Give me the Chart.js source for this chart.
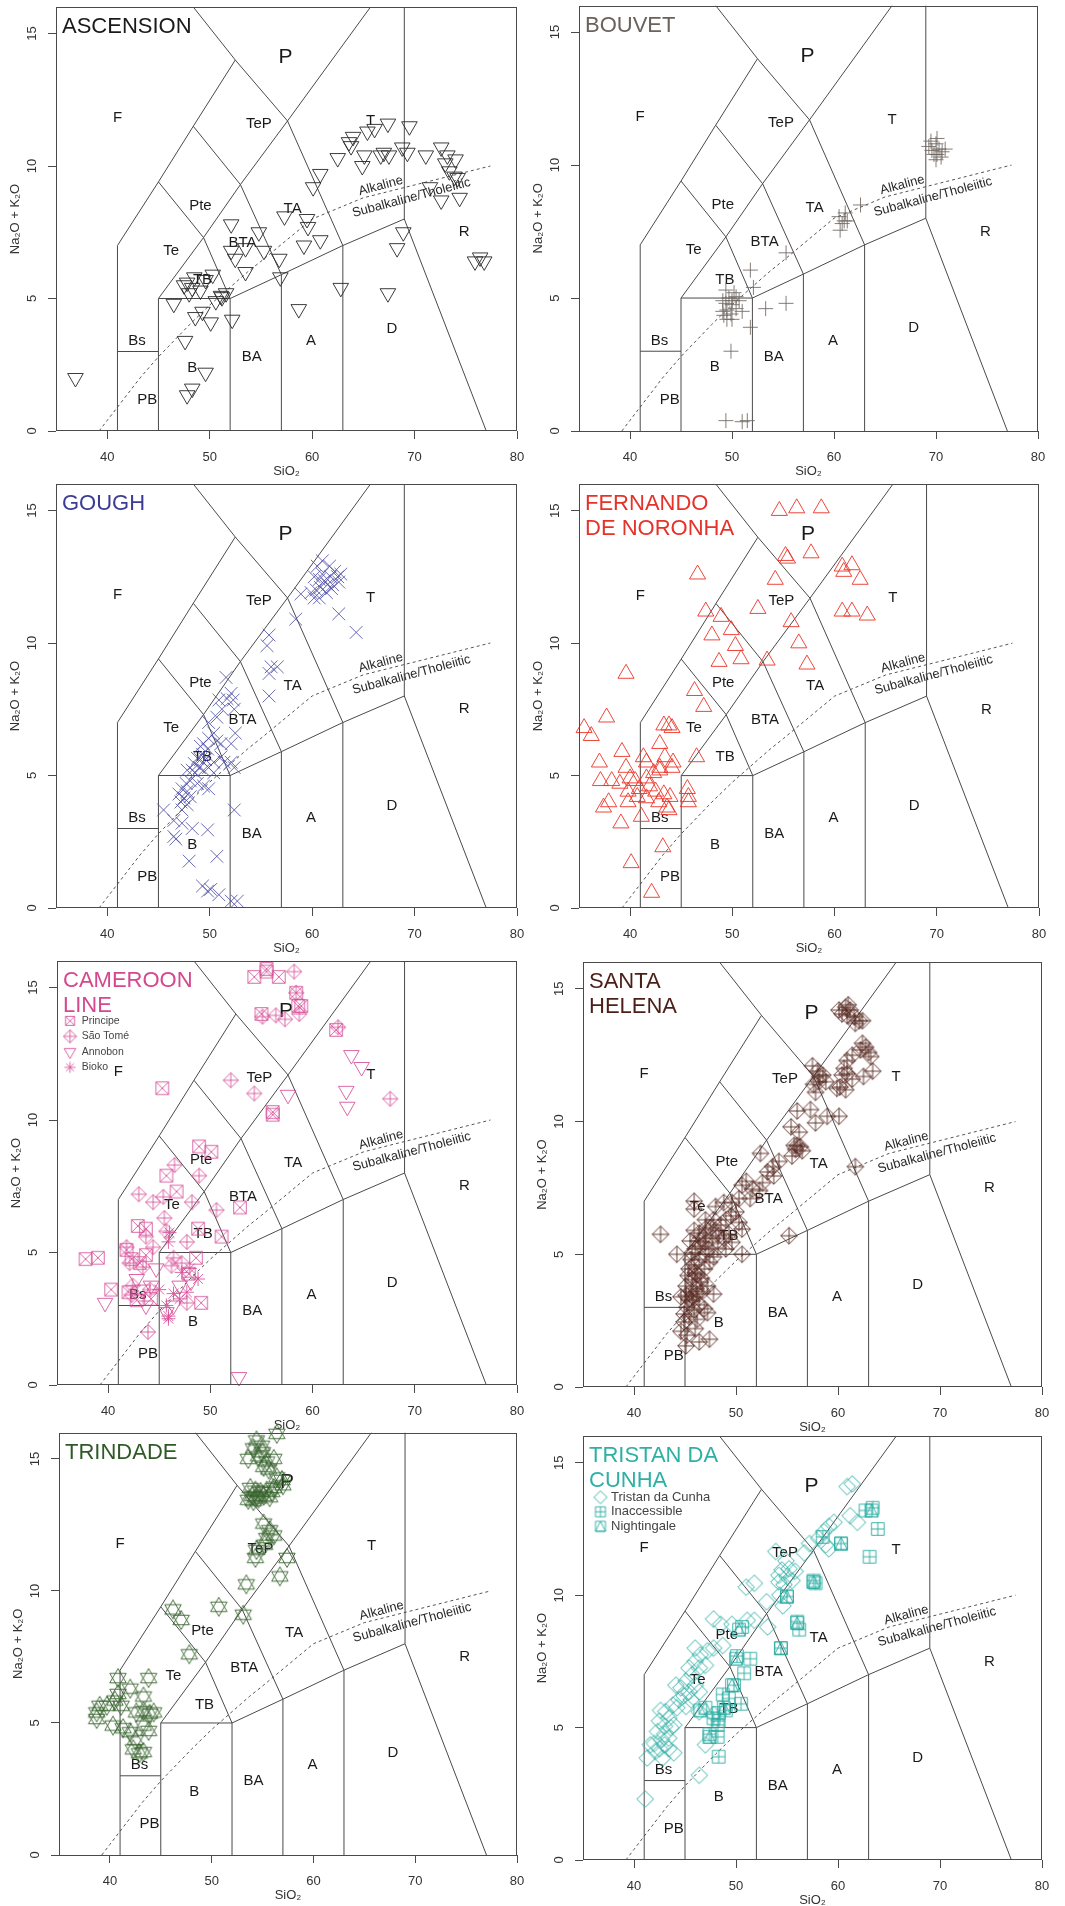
<!DOCTYPE html>
<html><head><meta charset="utf-8">
<script src="https://cdn.jsdelivr.net/npm/chart.js@4"></script>
<style>
html,body{margin:0;padding:0;background:#fff;}
#wrap{position:relative;width:1065px;height:1906px;overflow:hidden;background:#fff;}
#wrap canvas{position:absolute;}
</style></head><body><div id="wrap"></div>
<script>
// ---------- axis ticks ----------
const xTicks = [40, 50, 60, 70, 80];
const yTicks = [0, 5, 10, 15];

// ---------- TAS field boundaries [SiO2, Na2O+K2O] ----------
const fieldLines = [
  [[41,0],[41,7],[45,9.4],[48.4,11.5],[52.5,14],[48.4,16]],
  [[41,3],[45,3]],
  [[45,0],[45,5],[52,5],[57,5.9],[63,7],[69,8],[77,0]],
  [[52,0],[52,5]],
  [[57,0],[57,5.9]],
  [[63,0],[63,7]],
  [[69,8],[69,16]],
  [[45,5],[49.4,7.3],[53,9.3],[57.6,11.7],[65.7,16]],
  [[45,9.4],[49.4,7.3],[52,5]],
  [[48.4,11.5],[53,9.3],[57,5.9]],
  [[52.5,14],[57.6,11.7],[63,7]]
];
const alkLineX = [39.2,40,43.2,45,48,50,53.7,55,60,65,77.4];
const alkLineY = [0,0.4,2,2.8,4,4.75,6,6.4,8,8.8,10];

const fieldNames = ['P','F','TeP','T','Pte','TA','Te','BTA','TB','R','D','A','BA','Bs','B','PB'];
const fieldX = [57.4,41.0,54.8,65.7,49.1,58.1,46.25,53.2,49.3,74.85,67.8,59.9,54.1,42.9,48.3,43.9];
const fieldY = [14.1,11.8,11.6,11.7,8.5,8.4,6.8,7.1,5.7,7.5,3.86,3.4,2.8,3.4,2.4,1.17];
const seriesLabels = ['Alkaline','Subalkaline/Tholeiitic'];
const seriesLabelX = [66.7,69.7];
const seriesLabelY = [9.25,8.8];

// ---------- data: [SiO2, Na2O+K2O] ----------
const ascension = [[36.9,2.0],[47.8,1.35],[48.3,1.6],[49.6,2.2],[47.6,3.4],[46.5,4.8],[48.6,4.3],[49.3,4.5],[50.1,4.1],[52.2,4.2],[48.0,5.2],[48.3,5.4],[47.8,5.6],[48.5,5.8],[49.1,5.3],[49.6,5.7],[50.3,5.9],[50.6,4.9],[51.2,5.05],[51.6,5.2],[51.1,5.1],[47.5,5.5],[52.1,7.8],[52.1,6.8],[52.5,6.5],[53.5,6.9],[53.5,6.0],[54.8,7.5],[55.3,6.8],[56.8,6.5],[56.9,5.8],[57.3,8.1],[59.5,8.0],[59.6,7.7],[59.2,7.0],[60.8,7.2],[58.7,4.6],[60.1,9.2],[60.8,9.7],[62.5,10.3],[62.8,5.4],[63.6,10.9],[63.8,10.75],[64.0,11.1],[64.9,10.0],[65.1,10.4],[65.4,11.3],[66.1,11.4],[66.7,10.4],[67.0,10.5],[67.4,11.6],[67.5,10.4],[68.8,10.7],[69.3,10.5],[69.5,11.5],[67.4,5.2],[68.3,6.9],[68.9,7.5],[71.1,10.4],[72.6,10.7],[73.2,10.4],[73.0,10.1],[73.4,9.8],[74.0,10.25],[73.9,9.6],[71.5,9.2],[72.6,8.7],[74.4,8.8],[75.9,6.4],[76.4,6.55],[76.8,6.4],[74.2,9.55]];

const bouvet = [[69.3,10.7],[69.6,10.55],[70.0,10.8],[70.1,10.4],[70.3,10.6],[70.5,10.3],[70.6,10.5],[69.8,10.4],[69.5,10.9],[70.1,11.0],[70.9,10.6],[70.0,10.2],[60.5,8.06],[60.8,7.8],[61.0,7.9],[61.3,7.9],[60.6,7.55],[61.1,8.2],[62.6,8.5],[55.3,6.7],[51.8,6.05],[52.1,5.4],[53.3,4.6],[55.3,4.8],[51.8,3.9],[49.9,3.0],[49.1,4.9],[49.4,4.8],[49.7,5.0],[50.0,4.9],[50.4,5.05],[50.7,4.9],[49.5,4.55],[49.9,4.4],[49.2,4.35],[50.0,4.2],[50.4,4.6],[51.0,4.5],[49.5,4.2],[49.1,4.5],[50.2,5.2],[49.4,5.3],[50.0,4.75],[49.4,0.39],[51.0,0.35],[51.5,0.39]];

const gough = [[60.5,12.9],[61.0,13.1],[61.7,12.9],[62.2,12.7],[62.5,12.5],[60.2,12.5],[60.7,12.4],[61.2,12.35],[61.5,12.2],[62.0,12.2],[62.6,12.3],[60.8,12.1],[60.4,12.0],[59.9,11.9],[61.4,11.9],[61.9,12.05],[58.9,11.85],[60.7,11.7],[60.2,11.7],[61.0,12.6],[61.8,12.5],[62.8,12.6],[58.4,10.9],[62.6,11.1],[64.3,10.4],[55.8,10.3],[55.6,9.9],[56.0,9.1],[56.6,9.1],[55.8,8.85],[55.8,8.0],[51.6,8.7],[52.1,8.1],[52.3,7.85],[51.7,7.9],[50.9,7.85],[51.2,7.5],[50.7,7.2],[52.4,7.5],[52.5,6.6],[52.1,6.2],[49.9,7.0],[50.4,6.6],[50.7,6.3],[51.1,6.2],[49.9,6.4],[49.4,6.2],[49.1,6.1],[49.8,6.0],[49.3,5.8],[48.8,5.65],[49.1,5.6],[49.6,5.6],[48.5,5.45],[49.0,5.3],[48.3,5.2],[47.8,5.2],[48.6,5.1],[49.4,5.2],[49.9,5.3],[50.4,5.5],[51.1,5.7],[51.4,5.5],[52.1,5.5],[52.4,5.3],[50.4,5.1],[48.1,4.8],[47.7,4.7],[48.8,4.7],[49.4,4.6],[49.9,4.5],[47.3,4.5],[47.8,4.4],[47.0,4.3],[47.5,4.15],[48.1,4.2],[47.2,4.0],[47.8,3.9],[47.3,3.7],[45.5,3.7],[46.5,3.3],[47.3,3.2],[48.3,3.0],[49.8,2.95],[46.5,2.7],[46.7,2.6],[52.4,3.7],[48.0,1.77],[50.7,1.95],[49.3,0.83],[49.8,0.64],[50.1,0.7],[50.9,0.5],[52.1,0.26],[52.7,0.26]];

const fernando = [[54.6,15.0],[56.3,15.1],[58.7,15.1],[55.2,13.3],[55.4,13.2],[57.7,13.4],[46.6,12.6],[54.2,12.4],[60.75,12.9],[61.7,12.95],[60.9,12.7],[62.5,12.4],[60.75,11.2],[61.7,11.2],[63.2,11.05],[52.5,11.3],[47.4,11.2],[48.9,11.0],[55.75,10.8],[49.9,10.5],[48.0,10.3],[50.3,9.9],[56.5,10.0],[48.7,9.3],[50.85,9.4],[53.4,9.35],[57.3,9.2],[39.6,8.85],[46.3,8.2],[47.2,7.6],[37.7,7.2],[35.5,6.8],[36.2,6.5],[43.3,6.9],[43.8,6.9],[44.1,6.8],[39.2,5.9],[42.9,6.2],[46.5,5.7],[37.0,5.5],[39.6,5.3],[41.3,5.7],[41.6,5.5],[42.9,5.3],[44.2,5.5],[43.4,5.7],[37.1,4.8],[38.2,4.8],[39.0,4.7],[40.0,4.9],[40.5,4.8],[41.6,4.9],[42.3,5.1],[42.9,5.2],[44.1,5.3],[39.8,4.4],[40.9,4.5],[41.9,4.6],[42.5,4.4],[43.3,4.3],[43.9,4.2],[45.6,4.5],[45.7,4.2],[37.9,4.0],[37.4,3.8],[39.8,4.0],[40.7,4.2],[41.6,4.15],[42.8,4.0],[43.6,3.8],[45.7,4.0],[39.1,3.2],[41.1,3.45],[43.8,3.7],[43.2,2.3],[40.1,1.7],[42.1,0.58]];

const principe = [[54.3,15.4],[55.5,15.7],[55.5,15.6],[56.7,15.4],[58.4,14.8],[58.6,14.3],[58.9,14.3],[62.3,13.4],[55.0,14.0],[45.3,11.2],[56.1,10.3],[56.1,10.2],[48.9,9.0],[50.1,8.8],[45.7,7.9],[46.7,7.3],[52.9,6.7],[42.9,6.0],[43.7,5.9],[48.8,5.9],[51.1,5.6],[37.8,4.75],[39.0,4.8],[41.8,5.1],[42.3,4.75],[43.1,4.6],[43.7,4.9],[48.6,4.8],[47.9,4.2],[40.3,3.6],[49.1,3.1],[44.2,3.25],[42.0,3.5],[42.8,3.2]];
const saoTome = [[58.2,15.6],[58.4,14.8],[55.1,13.9],[56.4,13.95],[57.3,13.8],[58.7,14.0],[62.5,13.5],[52.0,11.5],[54.3,11.0],[67.6,10.8],[46.5,8.3],[48.9,7.9],[43.0,7.2],[44.4,6.9],[45.4,7.1],[48.2,6.9],[50.6,6.6],[45.5,6.3],[45.7,5.8],[43.7,5.6],[41.8,5.2],[44.4,5.2],[47.7,5.4],[46.4,4.8],[42.1,4.6],[43.4,4.45],[47.2,4.6],[46.2,4.5],[42.4,3.75],[44.1,3.6],[42.3,3.4],[43.9,2.0],[47.7,3.1]];
const annobon = [[63.8,12.45],[64.8,12.0],[63.3,11.1],[63.4,10.5],[57.6,10.95],[39.7,3.1],[52.8,0.3],[44.2,3.75],[42.8,4.0],[43.7,3.0],[46.4,3.0],[45.7,2.75],[44.7,4.4],[47.0,3.75],[48.1,3.9],[43.4,3.6]];
const bioko = [[48.8,4.0],[45.9,2.5],[46.4,3.45],[47.0,3.25],[47.7,3.5],[45.7,3.0],[45.0,3.6],[45.9,2.6],[48.0,4.4],[47.2,4.25],[46.0,5.75],[45.9,5.4]];
const cameroonNames = ['Principe','São Tomé','Annobon','Bioko'];

const santaHelena = [[60.1,14.2],[60.75,14.3],[61.2,14.2],[60.9,14.0],[61.6,13.95],[62.1,13.8],[62.4,13.8],[61.7,13.7],[60.4,14.05],[61.0,14.4],[62.4,12.95],[62.7,12.8],[62.2,12.7],[63.0,12.6],[61.4,12.5],[60.9,12.3],[63.2,12.45],[63.4,11.9],[62.5,11.7],[60.6,12.0],[60.9,11.8],[60.4,11.75],[60.2,11.3],[60.75,11.2],[61.4,11.6],[59.9,11.25],[57.5,12.1],[58.0,11.9],[58.2,11.7],[58.5,11.75],[58.8,11.5],[57.6,11.4],[57.8,11.1],[58.1,11.5],[56.0,10.4],[57.3,10.45],[57.8,9.95],[58.95,10.2],[60.1,10.2],[55.4,9.8],[56.2,9.6],[55.7,9.1],[56.0,9.1],[56.3,9.05],[55.85,8.95],[56.5,8.9],[55.5,8.7],[61.7,8.3],[55.2,5.7],[52.4,8.8],[54.2,8.5],[53.6,8.3],[53.1,8.1],[53.7,7.95],[52.6,7.7],[52.3,7.4],[51.6,7.45],[51.0,7.75],[50.6,7.6],[51.4,7.1],[50.3,7.1],[49.6,6.95],[48.8,6.95],[48.0,6.8],[50.0,6.6],[49.5,6.45],[50.3,6.2],[50.6,5.95],[45.9,7.0],[45.9,6.7],[47.0,6.3],[42.6,5.75],[45.9,5.9],[46.4,5.8],[47.0,5.95],[47.5,6.0],[48.0,5.9],[48.3,5.7],[48.8,5.6],[49.3,5.75],[49.6,5.45],[47.7,5.6],[47.0,5.45],[46.5,5.3],[46.0,5.2],[45.7,5.05],[44.2,5.0],[48.2,5.25],[49.0,5.2],[50.6,5.0],[47.0,5.0],[46.4,4.8],[45.9,4.6],[45.4,4.45],[46.9,4.45],[47.4,4.7],[47.8,4.9],[46.2,4.25],[45.7,4.05],[46.5,3.95],[47.2,3.8],[45.1,3.8],[45.6,3.6],[46.2,3.5],[47.8,3.5],[45.1,3.45],[44.6,3.4],[45.7,3.25],[46.4,3.1],[45.2,3.0],[45.9,2.9],[46.9,2.95],[44.9,2.75],[45.4,2.65],[46.2,2.55],[47.2,2.8],[44.9,2.45],[44.6,2.1],[46.0,2.2],[45.2,1.95],[46.4,1.7],[47.4,1.8],[45.1,1.55],[45.4,3.3],[46.0,4.3],[45.6,4.8],[46.6,4.1],[45.3,4.2],[46.8,5.6],[46.1,3.7],[45.8,3.4],[46.7,3.6],[45.5,5.5],[46.3,5.5],[47.3,5.2],[48.5,6.1],[49.0,6.3],[47.8,6.3]];

const trindade = [[56.4,15.95],[54.4,15.7],[54.9,15.5],[54.1,15.4],[55.0,15.25],[54.6,15.1],[53.6,15.0],[56.1,15.0],[55.4,14.9],[55.1,14.7],[55.6,14.6],[56.4,14.3],[57.0,14.0],[56.9,14.2],[53.8,13.9],[54.3,13.8],[54.8,13.75],[55.4,13.8],[55.9,13.75],[54.0,13.6],[54.4,13.55],[55.1,13.6],[55.7,13.55],[53.6,13.45],[54.1,13.4],[54.6,13.5],[56.1,13.9],[55.1,12.55],[55.7,12.3],[56.1,12.1],[55.4,12.0],[55.2,11.75],[54.4,11.55],[54.3,11.25],[57.4,11.25],[56.7,10.55],[53.4,10.25],[50.7,9.4],[46.2,9.3],[47.0,8.9],[53.1,9.1],[47.8,7.6],[40.8,6.7],[43.8,6.7],[40.8,6.1],[42.0,6.3],[43.3,6.0],[40.5,5.85],[41.1,5.65],[39.0,5.65],[38.7,5.4],[38.7,5.15],[39.7,5.65],[42.6,5.4],[43.3,5.45],[43.9,5.35],[44.3,5.4],[40.3,4.9],[41.3,4.8],[42.0,4.65],[43.3,4.9],[43.8,4.7],[42.5,4.35],[42.3,4.0],[42.9,3.85],[43.3,3.9]];

const tristan = [[60.9,14.1],[61.4,14.2],[61.2,13.0],[61.9,12.75],[59.6,12.75],[59.1,12.6],[58.6,12.4],[58.1,12.15],[58.8,11.9],[59.1,11.75],[57.2,11.95],[56.7,11.6],[53.9,11.65],[54.9,11.3],[55.2,11.0],[54.5,10.95],[54.2,10.75],[55.0,10.7],[55.5,10.55],[55.8,10.9],[54.2,10.5],[54.7,10.4],[51.0,10.3],[51.8,10.45],[53.0,9.75],[54.3,10.0],[54.6,9.6],[47.8,9.1],[48.5,8.9],[49.6,8.9],[51.1,9.05],[51.8,9.05],[53.1,8.8],[48.7,8.1],[47.8,8.0],[47.2,7.9],[46.0,8.0],[46.5,7.75],[46.0,7.5],[45.4,7.25],[45.7,7.0],[46.4,7.25],[47.0,7.35],[45.1,6.75],[44.6,6.5],[44.1,6.6],[45.4,6.35],[44.9,6.2],[44.4,6.05],[45.6,6.05],[46.4,6.35],[46.0,6.6],[43.8,5.85],[44.2,5.75],[45.1,5.8],[43.1,5.6],[42.6,5.65],[43.4,5.35],[42.5,5.25],[43.0,5.05],[43.6,5.0],[43.9,5.1],[42.3,4.85],[43.0,4.75],[43.4,4.6],[42.7,4.55],[42.0,4.4],[43.0,4.35],[43.4,4.2],[42.5,4.2],[43.9,4.05],[41.6,4.35],[42.1,4.1],[41.3,3.85],[42.8,3.85],[47.0,4.35],[46.4,3.2],[41.1,2.3],[47.8,5.5],[46.4,5.6]];
const inaccessible = [[63.4,13.3],[62.7,13.2],[63.9,12.5],[63.1,11.45],[58.5,12.2],[60.3,11.95],[57.6,10.55],[57.8,10.45],[55.0,9.95],[56.0,9.0],[56.2,8.7],[50.6,8.8],[54.4,8.0],[50.1,7.7],[51.4,7.6],[50.8,7.05],[49.8,6.6],[48.7,6.25],[49.3,6.1],[50.5,5.9],[49.0,5.65],[48.3,5.55],[47.8,5.35],[48.3,5.25],[48.2,5.1],[47.4,4.75],[48.2,4.65],[48.3,3.9]];
const nightingale = [[63.3,13.2],[60.3,11.95],[57.6,10.5],[56.0,8.95],[50.3,8.7],[54.4,8.0],[50.0,7.6],[55.0,9.95],[49.6,6.6],[48.8,5.75],[47.4,4.65],[46.5,5.65],[47.0,5.75]];
const tristanNames = ['Tristan da Cunha','Inaccessible','Nightingale'];

// ---------- styling / layout ----------
const FONT = '"Liberation Sans", Arial, Helvetica, sans-serif';
const INK = '#4a4a4a';

function markerImg(kind, r, color, dx) {
  dx = dx || 0;
  const half = Math.ceil(r + Math.abs(dx)) + 2;
  const c = document.createElement('canvas');
  c.width = c.height = half * 2;
  const g = c.getContext('2d');
  g.strokeStyle = color; g.lineWidth = 1;
  const cx = half + dx, cy = half, s = r, h = 0.866 * r;
  g.beginPath();
  const poly = pts => { g.moveTo(pts[0][0], pts[0][1]); for (let i = 1; i < pts.length; i++) g.lineTo(pts[i][0], pts[i][1]); g.closePath(); };
  const seg = (a, b, c2, d) => { g.moveTo(a, b); g.lineTo(c2, d); };
  if (kind.indexOf('sq') === 0) g.rect(cx - s, cy - s, 2 * s, 2 * s);
  if (kind === 'sqX') { seg(cx - s, cy - s, cx + s, cy + s); seg(cx + s, cy - s, cx - s, cy + s); }
  if (kind === 'sqPlus') { seg(cx - s, cy, cx + s, cy); seg(cx, cy - s, cx, cy + s); }
  if (kind === 'sqTri') poly([[cx, cy - s], [cx + s, cy + s], [cx - s, cy + s]]);
  if (kind === 'dia' || kind === 'diaPlus') poly([[cx - r, cy], [cx, cy - r], [cx + r, cy], [cx, cy + r]]);
  if (kind === 'diaPlus') { seg(cx - r, cy, cx + r, cy); seg(cx, cy - r, cx, cy + r); }
  if (kind === 'triUp' || kind === 'star6') poly([[cx, cy - r], [cx + h, cy + r / 2], [cx - h, cy + r / 2]]);
  if (kind === 'triDown' || kind === 'star6') poly([[cx, cy + r], [cx + h, cy - r / 2], [cx - h, cy - r / 2]]);
  if (kind === 'ast') { const d = r * 0.707; seg(cx - r, cy, cx + r, cy); seg(cx, cy - r, cx, cy + r); seg(cx - d, cy - d, cx + d, cy + d); seg(cx + d, cy - d, cx - d, cy + d); }
  g.stroke();
  return c;
}

const CAM = 'rgba(214,78,150,0.85)';
const TRI = 'rgba(40,172,162,0.9)';
const panels = [
  { title: ['ASCENSION'], tc: '#1a1a1a', rect: [55.5, 5.4, 516, 431],
    series: [{ data: ascension, style: 'triangle', rot: 180, r: 9, color: 'rgba(40,40,40,0.9)' }] },
  { title: ['BOUVET'], tc: '#6b625c', rect: [578.6, 5.4, 1038, 431],
    series: [{ data: bouvet, style: 'cross', r: 7.5, color: 'rgba(110,102,96,0.85)' }] },
  { title: ['GOUGH'], tc: '#3c3c94', rect: [55.5, 482.4, 516, 908],
    series: [{ data: gough, style: 'crossRot', r: 9, color: 'rgba(80,80,168,0.85)' }] },
  { title: ['FERNANDO', 'DE NORONHA'], tc: '#e6332a', rect: [579.2, 482.4, 1038.7, 908],
    series: [{ data: fernando, style: 'triangle', r: 9.3, color: 'rgba(236,52,40,0.9)' }] },
  { title: ['CAMEROON', 'LINE'], tc: '#d4488f', rect: [57.2, 959.1, 517.3, 1385.3],
    series: [
      { data: principe, img: 'sqX', r: 6.3, color: CAM },
      { data: saoTome, img: 'diaPlus', r: 7.5, color: CAM },
      { data: annobon, style: 'triangle', rot: 180, r: 9, color: CAM },
      { data: bioko, style: 'star', r: 7, color: CAM }],
    legend: { names: cameroonNames, kinds: ['sqX', 'diaPlus', 'triDown', 'ast'], rs: [4.5, 6.5, 6.7, 5.5], color: CAM,
      font: 10.5, pad: 5, bw: 14.5, dx: 0.8, titlePad: 47.6 } },
  { title: ['SANTA', 'HELENA'], tc: '#4b1f18', rect: [582.8, 961, 1041.3, 1387],
    series: [{ data: santaHelena, img: 'diaPlus', r: 8.3, color: 'rgba(88,40,32,0.9)' }] },
  { title: ['TRINDADE'], tc: '#2f5a27', rect: [59.1, 1429.7, 517.3, 1855],
    series: [{ data: trindade, img: 'star6', r: 9.5, color: 'rgba(55,100,45,0.9)' }] },
  { title: ['TRISTAN DA', 'CUNHA'], tc: '#2fb0a4', rect: [582.8, 1435, 1041.3, 1860.3],
    series: [
      { data: tristan, img: 'dia', r: 8.3, color: TRI },
      { data: inaccessible, img: 'sqPlus', r: 6.3, color: TRI },
      { data: nightingale, img: 'sqTri', r: 6.3, color: TRI }],
    legend: { names: tristanNames, kinds: ['dia', 'sqPlus', 'sqTri'], rs: [6.5, 5, 5], color: TRI,
      font: 13, pad: 1.5, bw: 20, dx: 6, titlePad: 50.3 } }
];

function panelPlugin(p) {
  return {
    id: 'tasPanel',
    beforeDatasetsDraw(chart) {
      const { ctx, scales: { x, y } } = chart;
      ctx.save();
      ctx.fillStyle = '#1a1a1a';
      ctx.textAlign = 'center'; ctx.textBaseline = 'middle';
      fieldNames.forEach((n, i) => {
        ctx.font = (n === 'P' ? '21px ' : '15px ') + FONT;
        ctx.fillText(n, x.getPixelForValue(fieldX[i]), y.getPixelForValue(fieldY[i]));
      });
      ctx.font = '13px ' + FONT;
      ctx.fillStyle = '#2a2a2a';
      seriesLabels.forEach((t, i) => {
        ctx.save();
        ctx.translate(x.getPixelForValue(seriesLabelX[i]), y.getPixelForValue(seriesLabelY[i]));
        ctx.rotate(-15 * Math.PI / 180);
        ctx.fillText(t, 0, 0);
        ctx.restore();
      });
      ctx.restore();
    },
    afterDraw(chart) {
      const { ctx, chartArea: a, scales: { y } } = chart;
      ctx.save();
      ctx.strokeStyle = INK; ctx.lineWidth = 1;
      ctx.strokeRect(Math.round(a.left) + 0.5, Math.round(a.top) + 0.5, Math.round(a.right - a.left) - 1, Math.round(a.bottom - a.top) - 1);
      ctx.fillStyle = '#333'; ctx.font = '13px ' + FONT;
      ctx.textAlign = 'center'; ctx.textBaseline = 'middle';
      y.ticks.forEach(t => {
        ctx.save();
        ctx.translate(a.left - 24, y.getPixelForValue(t.value));
        ctx.rotate(-Math.PI / 2);
        ctx.fillText(String(t.value), 0, 0);
        ctx.restore();
      });
      ctx.fillStyle = p.tc; ctx.font = '22px ' + FONT;
      ctx.textAlign = 'left'; ctx.textBaseline = 'alphabetic';
      p.title.forEach((line, i) => ctx.fillText(line, a.left + 6, a.top + 26 + i * 25));
      ctx.restore();
    }
  };
}

const wrap = document.getElementById('wrap');
panels.forEach(p => {
  const [L, T, R, B] = p.rect;
  const cl = Math.round(L) - 56, ct = Math.round(T) - 8;
  const w = Math.round(R - L) + 76, h = Math.round(B - T) + 60;
  const cv = document.createElement('canvas');
  cv.width = w; cv.height = h;
  cv.style.left = cl + 'px'; cv.style.top = ct + 'px';
  cv.style.width = w + 'px'; cv.style.height = h + 'px';
  wrap.appendChild(cv);

  const datasets = [];
  p.series.forEach((s, i) => {
    const ds = {
      label: p.legend ? p.legend.names[i] : p.title.join(' '),
      data: s.data.map(([x, y]) => ({ x, y })),
      showLine: false, clip: false, order: 0,
      pointRadius: s.r, pointHoverRadius: s.r, pointBorderWidth: 1,
      pointBackgroundColor: 'rgba(0,0,0,0)', pointBorderColor: s.color
    };
    if (s.img) ds.pointStyle = markerImg(s.img, s.r, s.color);
    else { ds.pointStyle = s.style; ds.pointRotation = s.rot || 0; }
    datasets.push(ds);
  });
  fieldLines.forEach(line => datasets.push({
    label: 'field', data: line.map(([x, y]) => ({ x, y })), showLine: true,
    pointRadius: 0, borderColor: INK, borderWidth: 1, order: 10, fill: false
  }));
  datasets.push({
    label: 'alk', data: alkLineX.map((x, i) => ({ x, y: alkLineY[i] })), showLine: true,
    pointRadius: 0, borderColor: '#555', borderWidth: 1, borderDash: [3, 3], order: 10, fill: false
  });

  let legendCfg = { display: false };
  if (p.legend) {
    const lg = p.legend;
    legendCfg = {
      display: true, position: 'chartArea', align: 'start',
      title: { display: true, text: '', padding: { top: lg.titlePad, bottom: 0 }, font: { size: 10 } },
      labels: {
        usePointStyle: true, pointStyleWidth: lg.bw, padding: lg.pad, boxHeight: lg.font,
        font: { family: FONT, size: lg.font }, color: '#444',
        generateLabels: () => lg.names.map((n, i) => ({
          text: n, pointStyle: markerImg(lg.kinds[i], lg.rs[i], lg.color, lg.dx),
          fillStyle: 'rgba(0,0,0,0)', strokeStyle: lg.color, lineWidth: 1,
          hidden: false, datasetIndex: i, rotation: 0, fontColor: '#444'
        }))
      }
    };
  }

  const grid = { display: true, drawOnChartArea: false, drawTicks: true, tickLength: 8, color: INK, lineWidth: 1 };
  new Chart(cv, {
    type: 'scatter',
    data: { datasets },
    options: {
      responsive: false, animation: false, events: [],
      layout: { padding: { top: 8, right: 20, left: 0, bottom: 0 } },
      scales: {
        x: {
          type: 'linear', min: 35, max: 80,
          afterBuildTicks: s => { s.ticks = xTicks.map(v => ({ value: v })); },
          afterFit: s => { s.height = 52; },
          grid, border: { display: false },
          ticks: { font: { family: FONT, size: 13 }, color: '#333', padding: 10.5, maxRotation: 0, autoSkip: false },
          title: { display: true, text: 'SiO₂', font: { family: FONT, size: 13 }, color: '#333', padding: { top: 0, bottom: 4.2 } }
        },
        y: {
          type: 'linear', min: 0, max: 16,
          afterBuildTicks: s => { s.ticks = yTicks.map(v => ({ value: v })); },
          afterFit: s => { s.width = 56; },
          grid, border: { display: false },
          ticks: { display: false },
          title: { display: true, text: 'Na₂O + K₂O', font: { family: FONT, size: 13 }, color: '#333', padding: { top: 7.7, bottom: 0 } }
        }
      },
      plugins: { legend: legendCfg, tooltip: { enabled: false } }
    },
    plugins: [panelPlugin(p)]
  });
});
</script></body></html>
